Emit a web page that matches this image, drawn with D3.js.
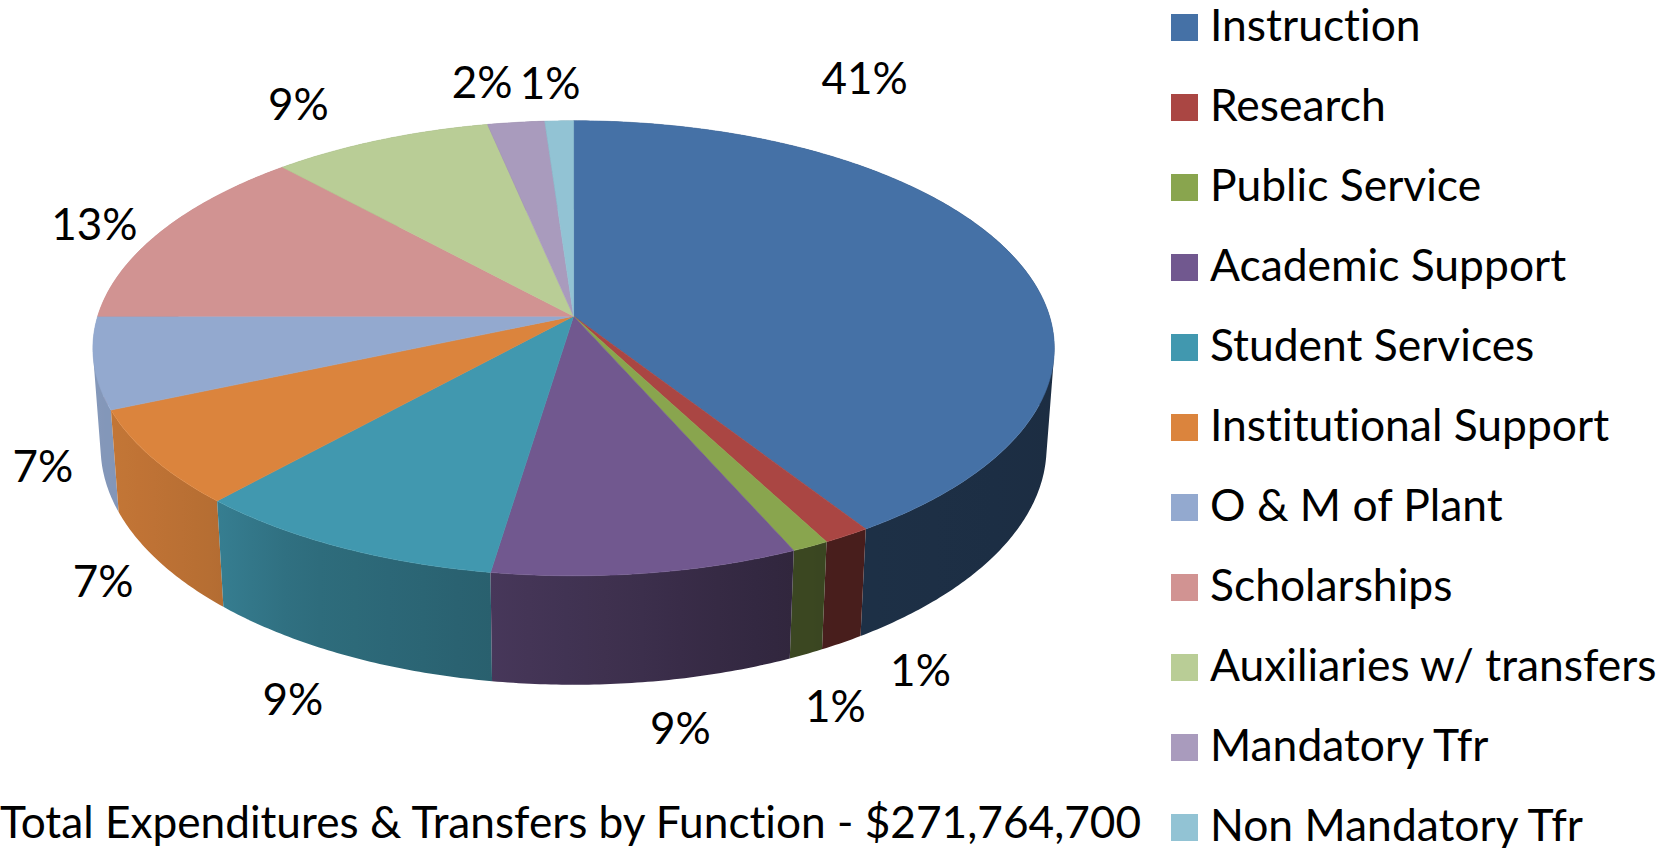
<!DOCTYPE html>
<html>
<head>
<meta charset="utf-8">
<title>Total Expenditures & Transfers by Function</title>
<script src="https://cdn.jsdelivr.net/npm/d3@7"></script>
<style>
    html, body { margin: 0; padding: 0; background: #ffffff; overflow: hidden; }
    svg { display: block; }
    text { font-family: Lato, "Open Sans", sans-serif; fill: #000000; font-variant-ligatures: none; }
</style>
</head>
<body>
<svg id="chart" width="1675" height="848"></svg>
<script>
//Chart data
const categories = ["Instruction", "Research", "Public Service", "Academic Support", "Student Services",
    "Institutional Support", "O & M of Plant", "Scholarships", "Auxiliaries w/ transfers", "Mandatory Tfr", "Non Mandatory Tfr"];
const shares = [40.9, 1.4, 1.1, 9.0, 9.3, 6.8, 6.5, 13.2, 8.5, 2.2, 1.1];
const shareLabels = ["41%", "1%", "1%", "9%", "9%", "7%", "7%", "13%", "9%", "2%", "1%"];
const colors = ["#4571a6", "#aa4643", "#89a54e", "#71588f", "#4198af", "#db843d", "#93a9cf", "#d19392", "#b9cd96", "#a99bbd", "#92c3d4"];
const chartTitle = "Total Expenditures & Transfers by Function - $271,764,700";

//Layout
const width = 1675;
const height = 848;
const cx = 573.6;
const apexY = 316.2;
const radiusX = 475.9;
const radiusY = 223;
const depth = 99.5;
const tiltK = 0.141;    // perspective of the disc
const depthK = 0.016;   // perspective of the extrusion
const fontSize = 44;
const legendFontSize = 44.4;
const titleFontSize = 44.2;

// label offset from the rim point at the middle of each slice
const labelNudge = [[-148, -177], [74, 135], [25, 160], [34, 155], [-47, 153], [-49, 124],
    [-51, 104], [-67, -7], [-82, -35], [-34, -40], [-9, -37]];

const svg = d3.select("#chart");
const color = d3.scaleOrdinal().domain(categories).range(colors);

// side wall gets darker left to right
const wallShade = d3.scaleLinear()
    .domain([96, 214, 300, 490, 790, 1054])
    .range([0.9, 0.83, 0.72, 0.63, 0.43, 0.4])
    .clamp(true);

function shaded(base, x) {
    const c = d3.rgb(base);
    const s = wallShade(x);
    return d3.rgb(c.r * s, c.g * s, c.b * s).formatHex();
}

// pie angle (clockwise from the top) to screen position, z = 0 top face, z = 1 bottom face
function project(angle, z) {
    const X = Math.sin(angle);
    const Y = -Math.cos(angle);
    const w = 1 - tiltK * Y + depthK * z;
    return [cx + radiusX * X / w, apexY + (radiusY * Y + depth * z) / w];
}

const pie = d3.pie().value(d => d.value).sort(null);
const slices = pie(categories.map((name, i) => ({ name: name, value: shares[i], label: shareLabels[i] })));

function arcAngles(d) {
    const n = Math.max(4, Math.ceil((d.endAngle - d.startAngle) / 0.01));
    return d3.range(n + 1).map(i => d.startAngle + (d.endAngle - d.startAngle) * i / n);
}

const line = d3.line();
const defs = svg.append("defs");

// walls, back ones first so the near ones sit on top
const wallOrder = slices.slice().sort((a, b) =>
    -Math.cos((a.startAngle + a.endAngle) / 2) - -Math.cos((b.startAngle + b.endAngle) / 2));

wallOrder.forEach(d => {
    const angles = arcAngles(d);
    const upper = angles.map(a => project(a, 0));
    const lower = angles.map(a => project(a, 1));
    const xExtent = d3.extent(upper.concat(lower), p => p[0]);
    const gradId = "wall-" + d.index;

    const grad = defs.append("linearGradient")
        .attr("id", gradId)
        .attr("gradientUnits", "userSpaceOnUse")
        .attr("x1", xExtent[0])
        .attr("x2", xExtent[1])
        .attr("y1", 0)
        .attr("y2", 0);

    d3.range(9).forEach(i => {
        grad.append("stop")
            .attr("offset", i / 8)
            .attr("stop-color", shaded(color(d.data.name), xExtent[0] + (xExtent[1] - xExtent[0]) * i / 8));
    });

    // one quad per step, all wound the same way, so the silhouette at the fold stays filled
    let quads = "";
    d3.range(angles.length - 1).forEach(i => {
        const quad = [upper[i], upper[i + 1], lower[i + 1], lower[i]];
        if (d3.polygonArea(quad) < 0) quad.reverse();
        quads += line(quad) + "Z";
    });

    svg.append("path")
        .attr("class", "wall")
        .attr("d", quads)
        .attr("fill", "url(#" + gradId + ")");
});

// top face
svg.selectAll("path.top")
    .data(slices)
    .join("path")
    .attr("class", "top")
    .attr("d", d => line([[cx, apexY]].concat(arcAngles(d).map(a => project(a, 0)))) + "Z")
    .attr("fill", d => color(d.data.name))
    .attr("stroke", d => color(d.data.name))
    .attr("stroke-width", 0.6);

// percent labels
svg.selectAll("text.pct")
    .data(slices)
    .join("text")
    .attr("class", "pct")
    .attr("x", d => project((d.startAngle + d.endAngle) / 2, 0)[0] + labelNudge[d.index][0])
    .attr("y", d => project((d.startAngle + d.endAngle) / 2, 0)[1] + labelNudge[d.index][1])
    .attr("dy", "0.35em")
    .attr("text-anchor", "middle")
    .attr("font-size", fontSize)
    .text(d => d.data.label);

// legend
const legendY = d3.scaleBand().domain(categories).range([14, 14 + 80 * categories.length]);
const legend = svg.selectAll("g.legend")
    .data(categories)
    .join("g")
    .attr("class", "legend")
    .attr("transform", d => "translate(1171," + legendY(d) + ")");

legend.append("rect")
    .attr("width", 27)
    .attr("height", 27)
    .attr("fill", d => color(d));

legend.append("text")
    .attr("x", 39)
    .attr("y", 27)
    .attr("font-size", legendFontSize)
    .text(d => d);

svg.append("text")
    .attr("x", 0)
    .attr("y", 838)
    .attr("font-size", titleFontSize)
    .text(chartTitle);
</script>
</body>
</html>
